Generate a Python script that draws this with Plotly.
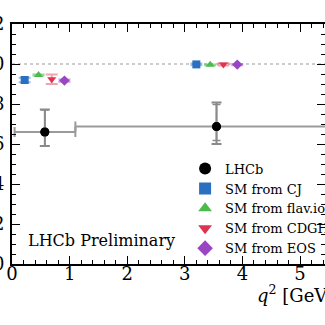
import plotly.graph_objects as go

# LHCb measurement
lhcb_x = [0.57, 3.55]
lhcb_y = [0.66, 0.687]
lhcb_bin_lo = [0.045, 1.1]
lhcb_bin_hi = [1.1, 6.0]
lhcb_tot_up = [0.113, 0.12]
lhcb_tot_dn = [0.07, 0.087]
lhcb_stat_up = [0.11, 0.11]
lhcb_stat_dn = [0.07, 0.07]

# SM predictions
sm_names = ["SM from CJ", "SM from flav.io", "SM from CDGHI", "SM from EOS"]
sm_x = [[0.22, 3.20], [0.46, 3.44], [0.69, 3.67], [0.91, 3.91]]
sm_y = [[0.920, 0.998], [0.945, 0.996], [0.924, 0.998], [0.917, 0.997]]
sm_err = [[0.011, 0.004], [0.003, 0.002], [0.024, 0.006], [0.006, 0.003]]
sm_colors = ["#2b6fc0", "#4cbb4c", "#e0334f", "#9a46c4"]
sm_light = ["rgba(43,111,192,0.45)", "rgba(76,187,76,0.6)", "rgba(224,51,79,0.45)", "rgba(154,70,196,0.5)"]
sm_symbols = ["square", "triangle-up", "triangle-down", "diamond"]

FONT = "DejaVu Serif"

fig = go.Figure()

fig.add_trace(go.Scatter(x=[0, 6.0], y=[1.0, 1.0], mode="lines",
                         line=dict(color="#999999", width=1, dash="dot"),
                         showlegend=False, hoverinfo="skip"))

xm = [c - lo for c, lo in zip(lhcb_x, lhcb_bin_lo)]
xp = [hi - c for c, hi in zip(lhcb_x, lhcb_bin_hi)]
fig.add_trace(go.Scatter(
    x=lhcb_x, y=lhcb_y, mode="markers",
    marker=dict(color="black", size=9, symbol="circle"),
    error_x=dict(type="data", symmetric=False, array=xp, arrayminus=xm,
                 color="#9a9a9a", thickness=2, width=5),
    error_y=dict(type="data", symmetric=False, array=lhcb_tot_up, arrayminus=lhcb_tot_dn,
                 color="#8a8a8a", thickness=2, width=5),
    name="LHCb", legendgroup="lhcb"))
fig.add_trace(go.Scatter(
    x=lhcb_x, y=lhcb_y, mode="markers",
    marker=dict(color="black", size=9, symbol="circle"),
    error_y=dict(type="data", symmetric=False, array=lhcb_stat_up, arrayminus=lhcb_stat_dn,
                 color="#8a8a8a", thickness=1.5, width=4),
    showlegend=False, hoverinfo="skip", legendgroup="lhcb"))

for i, (name, xs, ys, es, c, lc, s) in enumerate(zip(sm_names, sm_x, sm_y, sm_err, sm_colors, sm_light, sm_symbols)):
    fig.add_trace(go.Scatter(
        x=xs, y=ys, mode="markers",
        marker=dict(color=c, size=8, symbol=s),
        error_y=dict(type="data", array=es, color=lc, thickness=2, width=6),
        name=name, legendgroup=f"sm{i}"))

axis_common = dict(showline=True, linecolor="black", linewidth=2, mirror="allticks",
                   ticks="inside", ticklen=8, tickcolor="black", tickwidth=1,
                   showgrid=False, zeroline=False,
                   tickfont=dict(family=FONT, size=18, color="black"))

fig.update_xaxes(range=[0, 5.433], dtick=1, tick0=0, ticklabelstandoff=-8,
                 minor=dict(dtick=0.2, ticks="inside", ticklen=4, tickcolor="black", showgrid=False),
                 **axis_common)
fig.update_yaxes(range=[0, 1.2], dtick=0.2, tick0=0, tickformat=".1f",
                 ticklabelstandoff=2,
                 minor=dict(dtick=0.05, ticks="inside", ticklen=4, tickcolor="black", showgrid=False),
                 **axis_common)

fig.add_annotation(x=0.25, y=0.12, xref="x", yref="y", text="LHCb Preliminary",
                   showarrow=False, xanchor="left", yanchor="middle",
                   font=dict(family=FONT, size=16, color="black"))
fig.add_annotation(x=4.22, y=-0.125, xref="x", yref="paper",
                   text="<i>q</i><sup>2</sup> [GeV<sup>2</sup>/<i>c</i><sup>4</sup>]",
                   showarrow=False, xanchor="left", yanchor="middle",
                   font=dict(family=FONT, size=18, color="black"))

fig.update_layout(
    width=325, height=325,
    margin=dict(l=12, r=0, t=24, b=61, autoexpand=False),
    paper_bgcolor="white", plot_bgcolor="white",
    showlegend=True,
    legend=dict(x=0.553, y=0.46, xanchor="left", yanchor="top",
                bgcolor="rgba(0,0,0,0)", font=dict(family=FONT, size=13, color="black"),
                traceorder="grouped", tracegroupgap=0, itemsizing="constant"),
)

fig.write_html("out.html")
